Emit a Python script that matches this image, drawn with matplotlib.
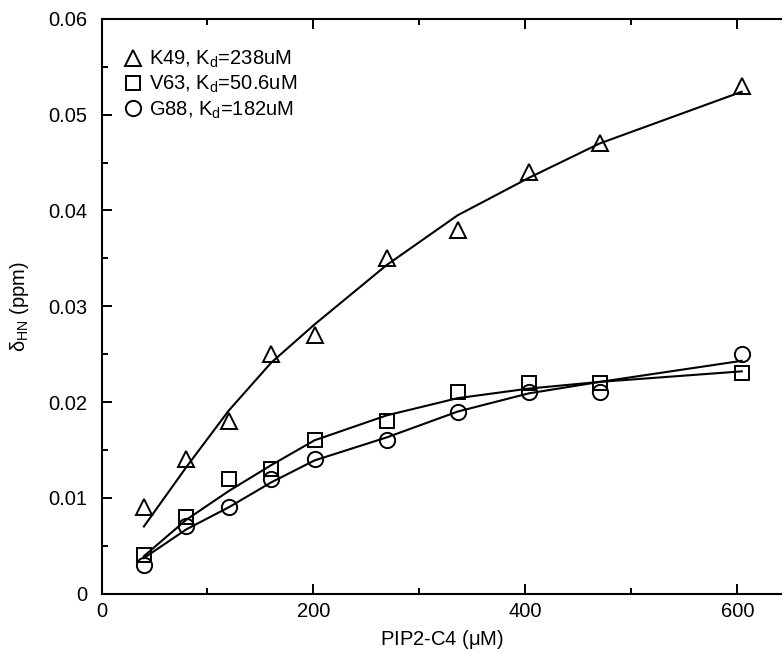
import matplotlib
matplotlib.use("Agg")
import matplotlib.pyplot as plt
from matplotlib.ticker import MultipleLocator

plt.rcParams['font.family'] = ['Liberation Sans', 'DejaVu Sans']
plt.rcParams['mathtext.fontset'] = 'custom'
plt.rcParams['mathtext.rm'] = 'Liberation Sans'
plt.rcParams['mathtext.default'] = 'regular'

# PIP2-C4 concentrations (uM)
conc = [40, 80, 120, 160, 201, 269, 336, 403, 470, 604]

# measured shifts
k49 = [0.009, 0.014, 0.018, 0.025, 0.027, 0.035, 0.038, 0.044, 0.047, 0.053]
v63 = [0.004, 0.008, 0.012, 0.013, 0.016, 0.018, 0.021, 0.022, 0.022, 0.023]
g88 = [0.003, 0.007, 0.009, 0.012, 0.014, 0.016, 0.019, 0.021, 0.021, 0.025]

# fitted curves at each concentration
k49_fit = [0.0070, 0.0132, 0.0191, 0.0241, 0.0281, 0.0343, 0.0395, 0.0434, 0.0470, 0.0524]
v63_fit = [0.0039, 0.0077, 0.0107, 0.0134, 0.0160, 0.0186, 0.0204, 0.0214, 0.0221, 0.0232]
g88_fit = [0.0037, 0.0067, 0.0090, 0.0116, 0.0139, 0.0163, 0.0190, 0.0209, 0.0221, 0.0243]

labels = ['K49, K$_{d}$=238uM', 'V63, K$_{d}$=50.6uM', 'G88, K$_{d}$=182uM']
yticks = [0, 0.01, 0.02, 0.03, 0.04, 0.05, 0.06]
yticklabels = ['0', '0.01', '0.02', '0.03', '0.04', '0.05', '0.06']

fs = 14.5

fig = plt.figure(figsize=(7.82, 6.52), dpi=100)
ax = fig.add_axes([0.1298, 0.0897, 0.8702, 0.8812])

mk = dict(linestyle='none', markerfacecolor='none', markeredgecolor='black', markeredgewidth=1.4)
ax.plot(conc, k49_fit, color='black', lw=1.5)
ax.plot(conc, v63_fit, color='black', lw=1.5)
ax.plot(conc, g88_fit, color='black', lw=1.5)
ax.plot(conc, k49, marker='^', markersize=12, label=labels[0], **mk)
ax.plot(conc, v63, marker='s', markersize=10, label=labels[1], **mk)
ax.plot(conc, g88, marker='o', markersize=11, label=labels[2], **mk)

ax.set_xlim(0, 642)
ax.set_ylim(0, 0.06)
ax.xaxis.set_major_locator(MultipleLocator(200))
ax.xaxis.set_minor_locator(MultipleLocator(100))
ax.set_yticks(yticks)
ax.set_yticklabels(yticklabels)
ax.yaxis.set_minor_locator(MultipleLocator(0.005))
ax.tick_params(which='both', direction='in', top=True, right=False, labelsize=fs, width=1.4)
ax.tick_params(axis='y', pad=10)
ax.tick_params(axis='x', pad=6)
ax.tick_params(which='major', length=7)
ax.tick_params(which='minor', length=4)
for s in ['left', 'bottom', 'top']:
    ax.spines[s].set_linewidth(1.5)
ax.spines['right'].set_visible(False)

ax.set_xlabel('PIP2-C4 ($\\mu$M)', fontsize=fs, labelpad=5)
ax.set_ylabel('$\\delta_{HN}$ (ppm)', fontsize=fs)
ax.yaxis.set_label_coords(-0.103, 0.5)

ax.legend(loc='upper left', bbox_to_anchor=(0.038, 0.948), frameon=False, fontsize=fs,
          handlelength=0.6, handletextpad=0.45, labelspacing=0.2, borderaxespad=0,
          borderpad=0)

fig.savefig('out.png', dpi=100)
